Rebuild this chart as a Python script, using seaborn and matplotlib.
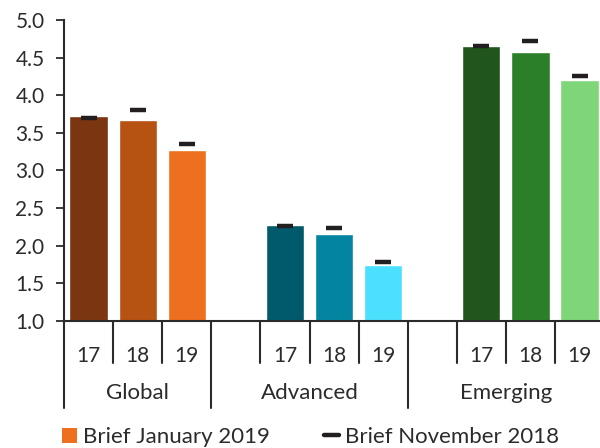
import matplotlib
matplotlib.use("Agg")
import matplotlib.pyplot as plt
import seaborn as sns
import pandas as pd
from matplotlib.patches import Patch
from matplotlib.lines import Line2D

groups = ["Global", "Advanced", "Emerging"]
years = ["17", "18", "19"]
jan_2019 = [3.72, 3.67, 3.27, 2.28, 2.16, 1.74, 4.65, 4.57, 4.20]
nov_2018 = [3.70, 3.81, 3.35, 2.26, 2.24, 1.79, 4.65, 4.72, 4.25]
bar_colors = ["#7B3510", "#B65212", "#EE6F1F",
              "#005A6C", "#0385A1", "#4CE0FF",
              "#20561E", "#2B7F28", "#7FD679"]
yticks = [1.0, 1.5, 2.0, 2.5, 3.0, 3.5, 4.0, 4.5, 5.0]

# positions: 3 bars per group, one empty slot between groups
pos = []
for gi in range(len(groups)):
    for yi in range(len(years)):
        pos.append(gi * 4 + yi)

df = pd.DataFrame({"pos": pos, "jan": jan_2019, "nov": nov_2018,
                   "key": [f"{g}{y}" for g in groups for y in years]})

sns.set_style("white")
plt.rcParams["font.family"] = ["Lato", "DejaVu Sans"]
txt = "#2b2b2b"

fig = plt.figure(figsize=(6, 4.48), dpi=100)
ax = fig.add_axes([64 / 600, 1 - 321 / 448, 11 * 49.1 / 600, 301 / 448])

sns.barplot(data=df, x="pos", y="jan", hue="key", palette=bar_colors,
            native_scale=True, width=0.78, dodge=False, legend=False,
            saturation=1, ax=ax)
sns.scatterplot(data=df, x="pos", y="nov", marker="_", s=130, linewidth=3.2,
                color="#231f20", ax=ax, zorder=5, legend=False)

ax.set_xlim(-0.5, 10.5)
ax.set_ylim(1.0, 5.0)
ax.set_yticks(yticks)
ax.set_yticklabels([f"{v:.1f}" for v in yticks], fontsize=15, color=txt)
ax.tick_params(axis="y", length=6, width=1.3, color=txt, pad=8, left=True)
ax.set_xticks(pos)
ax.set_xticklabels(years * 3, fontsize=15, color=txt)
ax.tick_params(axis="x", length=0, pad=18)
ax.set_xlabel("")
ax.set_ylabel("")
for s in ["top", "right"]:
    ax.spines[s].set_visible(False)
for s in ["left", "bottom"]:
    ax.spines[s].set_color(txt)
    ax.spines[s].set_linewidth(1.5)

tr = ax.get_xaxis_transform()
# separators
for gi in range(len(groups)):
    start = gi * 4 - 0.5 - (1 if gi > 0 else 0)
    ax.plot([start, start], [0, -0.29], transform=tr, color=txt, lw=1.5,
            clip_on=False)
    for k in range(1, 3) if gi == 0 else range(0, 3):
        xb = gi * 4 - 0.5 + k
        ax.plot([xb, xb], [0, -0.14], transform=tr, color=txt, lw=1.5,
                clip_on=False)
    cx = (start + gi * 4 + 2.5) / 2
    ax.text(cx, -0.24, groups[gi], transform=tr, ha="center", va="center",
            fontsize=16, color=txt)

handles = [Patch(facecolor="#EE6F1F", edgecolor="none"),
           Line2D([0], [0], color="#231f20", lw=3.2)]
fig.legend(handles, ["Brief January 2019", "Brief November 2018"],
           loc="center left", bbox_to_anchor=(42 / 600, 1 - 437 / 448),
           ncol=2, frameon=False, handlelength=0.68,
           handleheight=0.68, handletextpad=0.28, columnspacing=2.4,
           labelcolor=txt, prop={"size": 16})

fig.savefig("out.png", dpi=100)
